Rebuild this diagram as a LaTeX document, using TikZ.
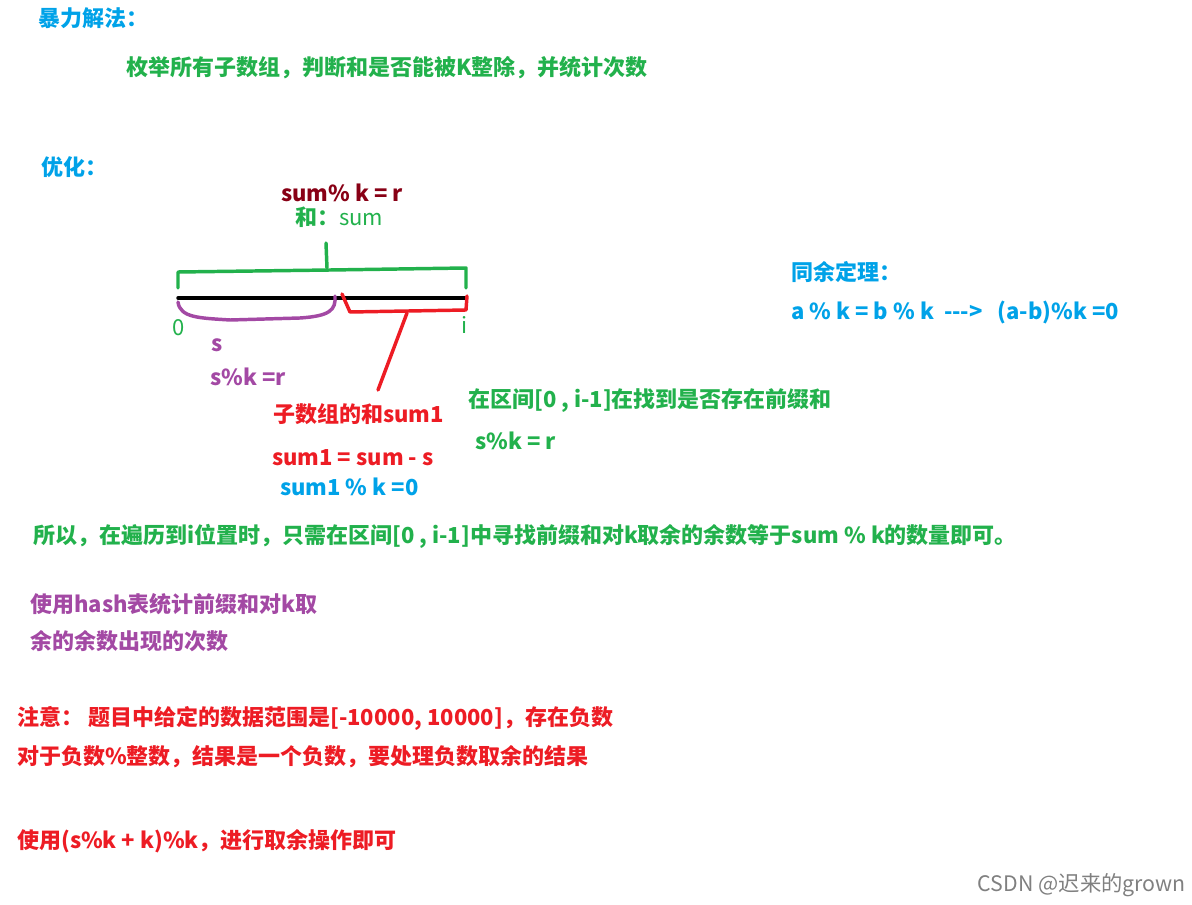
\documentclass[tikz,border=0pt]{standalone}
\usepackage{fontspec}
\setmainfont{Noto Sans CJK SC}
\definecolor{cgreen}{RGB}{34,177,76}
\definecolor{cblue}{RGB}{0,162,232}
\definecolor{cred}{RGB}{237,28,36}
\definecolor{cpurple}{RGB}{163,73,164}
\definecolor{cdark}{RGB}{136,0,21}
\tikzset{
	txt/.style={anchor=west,inner sep=0.75pt,font=\fontsize{16.5}{18}\selectfont\bfseries},
	pen/.style={line width=2.6pt,line cap=round,line join=round}
}
\begin{document}
\begin{tikzpicture}[x=0.75pt,y=0.75pt,yscale=-1]
		\useasboundingbox (0,0) rectangle (1192,905);

		% headings
		\node[txt,cblue] (brute) at (37,18) {暴力解法：};
		\node[txt,cgreen] (enum) at (125,68) {枚举所有子数组，判断和是否能被K整除，并统计次数};
		\node[txt,cblue] (opt) at (40,167) {优化：};

		% segment
		\draw[pen,black] (178,298) -- (466,298);
		\draw[pen,cgreen] (178,288) -- (178,272) -- (330,270) -- (466,268) -- (466,288);
		\draw[pen,cgreen] (327,268) -- (326,243);
		\draw[pen,cpurple] (178,302) .. controls (180,318) and (200,318) .. (230,320) -- (300,318) .. controls (330,316) and (336,310) .. (335,296);
		\draw[pen,cred] (342,294) -- (350,312) -- (466,310) -- (467,296);
		\draw[pen,cred] (407,313) -- (378,390);

		\node[txt,cdark] (sumk) at (280,193) {sum\% k = r};
		\node[txt,cgreen] (sum) at (294,217) {和：\mdseries sum};
		\node[txt,cgreen,font=\fontsize{16.5}{18}\selectfont] (zero) at (171,328) {0};
		\node[txt,cgreen,font=\fontsize{16.5}{18}\selectfont] (ipos) at (460,325) {i};
		\node[txt,cpurple] (s) at (210,345) {s};
		\node[txt,cpurple] (smod) at (209,377) {s\%k =r};
		\node[txt,cred] (sub) at (272,414) {子数组的和sum1};
		\node[txt,cgreen] (range) at (467,401) {在区间[0 , i-1]在找到是否存在前缀和};
		\node[txt,cgreen] (smod2) at (474,441) {s\%k = r};
		\node[txt,cred] (sum1) at (271,458) {sum1 = sum - s};
		\node[txt,cblue] (sum1k) at (279,487) {sum1 \% k =0};

		% theorem
		\node[txt,cblue] (thm) at (790,272) {同余定理：};
		\node[txt,cblue] (eq) at (790,313) {a \% k = b \% k \ -{}-{}-> \ \ (a-b)\%k =0};

		% conclusions
		\node[txt,cgreen] (so) at (32,536) {所以，在遍历到i位置时，只需在区间[0 , i-1]中寻找前缀和对k取余的余数等于sum \% k的数量即可。};
		\node[txt,cpurple] (hash1) at (29,604) {使用hash表统计前缀和对k取};
		\node[txt,cpurple] (hash2) at (29,641) {余的余数出现的次数};
		\node[txt,cred] (note1) at (16,718) {注意： 题目中给定的数据范围是[-10000, 10000]，存在负数};
		\node[txt,cred] (note2) at (16,757) {对于负数\%整数，结果是一个负数，要处理负数取余的结果};
		\node[txt,cred] (note3) at (16,841) {使用(s\%k + k)\%k，进行取余操作即可};
		\node[anchor=east,inner sep=0.75pt,gray,font=\fontsize{16}{18}\selectfont] (mark) at (1187,885) {CSDN @迟来的grown};
		\end{tikzpicture}
\end{document}
